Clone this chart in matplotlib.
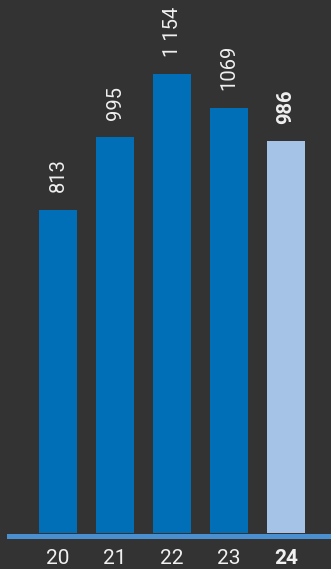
import matplotlib
matplotlib.use('Agg')
import matplotlib.pyplot as plt

years = ['20', '21', '22', '23', '24']
values = [813, 995, 1154, 1069, 986]
value_labels = ['813', '995', '1 154', '1069', '986']
highlight = [False, False, False, False, True]

BG = '#333333'
BAR = '#006fb7'
BAR_HL = '#a5c3e6'
AXIS = '#4a90d0'
TXT = '#f0f0f0'

plt.rcParams['font.family'] = ['Roboto', 'DejaVu Sans']

fig = plt.figure(figsize=(3.31, 5.69), dpi=100, facecolor=BG)
ax = fig.add_axes([0, 0, 1, 1])
ax.set_facecolor(BG)

x = range(len(years))
colors = [BAR_HL if h else BAR for h in highlight]
ax.bar(x, values, width=0.667, color=colors, zorder=2)

# baseline strip under the bars
ax.axhline(-6.3, xmin=0.027, xmax=1, color=AXIS, lw=3.6, zorder=3)

for i, (v, lab, h) in enumerate(zip(values, value_labels, highlight)):
    ax.annotate(lab, (i, v), xytext=(0, 12.5), textcoords='offset points',
                rotation=90, ha='center', va='bottom', color=TXT,
                fontsize=14.5, fontweight='bold' if h else 'normal')
    ax.text(i, -63, years[i], ha='center', va='center', color=TXT,
            fontsize=15, fontweight='bold' if h else 'normal')

ax.set_xlim(-1.0175, 4.789)
ax.set_ylim(-90.5, 1340.2)
ax.axis('off')

fig.savefig('out.png', dpi=100, facecolor=BG)
